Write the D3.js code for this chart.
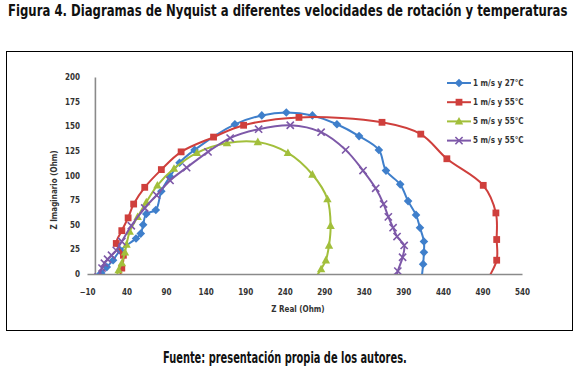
<!DOCTYPE html>
<html>
<head>
<meta charset="utf-8">
<script src="https://cdn.jsdelivr.net/npm/d3@7"></script>
<style>
  body { margin: 0; background: #fff; }
  text { font-family: "DejaVu Sans Condensed", "Liberation Sans Narrow", sans-serif; }
</style>
</head>
<body>
<div id="chart"></div>
<script>
// Nyquist data (Z real, Z imaginario, Ohm)
var seriesNames = ["1 m/s y 27°C", "1 m/s y 55°C", "5 m/s y 55°C", "5 m/s y 55°C"];
var seriesColors = ["#3f7fcb", "#cf3f3c", "#a2bf3b", "#7d58a8"];
var seriesMarkers = ["diamond", "square", "triangle", "cross"];

var blueReal = [3, 8, 15, 23, 32, 52, 58, 61, 65, 77, 84, 95, 107, 126, 177, 211, 242, 275, 306, 334, 359, 368, 386, 396, 406, 411, 416, 416, 415, 413];
var blueImag = [-3, 1, 7, 14, 24, 36, 41, 50, 61, 65, 84, 99, 113, 126, 152, 161, 164, 161, 152, 140, 126, 105, 91, 74, 60, 47, 33, 22, 10, -5];

var redReal = [31, 34, 36, 27, 34, 42, 49, 63, 84, 109, 150, 188, 258, 363, 412, 445, 491, 507, 508, 508, 496];
var redImag = [-4, 6, 19, 31, 44, 57, 71, 88, 106, 124, 139, 151, 159, 154, 142, 117, 90, 62, 35, 14, -6];

var greenReal = [27, 30, 34, 38, 40, 44, 54, 65, 79, 100, 129, 167, 206, 244, 275, 294, 298, 296, 292, 286, 277];
var greenImag = [-4, 4, 11, 22, 30, 43, 58, 73, 90, 107, 123, 133, 134, 123, 101, 76, 49, 29, 14, 5, -6];

var purpleReal = [4, 9, 12, 16, 21, 27, 34, 46, 63, 78, 95, 116, 143, 171, 207, 247, 286, 317, 339, 355, 365, 371, 377, 382, 391, 389, 383, 381];
var purpleImag = [-3, 6, 11, 15, 19, 24, 33, 49, 67, 80, 95, 108, 124, 138, 147, 151, 144, 126, 105, 87, 71, 58, 47, 38, 29, 17, 3, -4];

var xTicks = [-10, 40, 90, 140, 190, 240, 290, 340, 390, 440, 490, 540];
var yTicks = [0, 25, 50, 75, 100, 125, 150, 175, 200];

var allReal = [blueReal, redReal, greenReal, purpleReal];
var allImag = [blueImag, redImag, greenImag, purpleImag];

var W = 579, H = 372;

var svg = d3.select("#chart").append("svg")
    .attr("width", W)
    .attr("height", H);

svg.append("rect").attr("width", W).attr("height", H).attr("fill", "#fff");

// Squeeze a text horizontally so it spans the given width
function fitText(x0, y0, width, size, str) {
    var t = svg.append("text")
        .style("font-size", size + "px").style("font-weight", "bold")
        .attr("fill", "#111")
        .text(str);
    var natural = t.node().getComputedTextLength();
    var sx = width / natural;
    t.attr("transform", "translate(" + x0 + "," + y0 + ") scale(" + sx + ",1)");
    return t;
}

// Title and source
fitText(8, 16, 560, 16, "Figura 4. Diagramas de Nyquist a diferentes velocidades de rotación y temperaturas");
fitText(163, 363, 244, 16, "Fuente: presentación propia de los autores.");

// Frame around the chart
svg.append("rect")
    .attr("x", 6.5).attr("y", 51.5)
    .attr("width", 566).attr("height", 279)
    .attr("fill", "none").attr("stroke", "#000").attr("stroke-width", 1);

var x = d3.scaleLinear().domain([-10, 540]).range([87, 522]);
var y = d3.scaleLinear().domain([0, 200]).range([274, 77]);

// Clip to the plot area (values below 0 are hidden like in the original)
svg.append("clipPath").attr("id", "plotClip")
    .append("rect")
    .attr("x", x(-10)).attr("y", y(200) - 10)
    .attr("width", x(540) - x(-10)).attr("height", y(0) - y(200) + 10);

// Axes
var yAxis = svg.append("g")
    .attr("transform", "translate(" + x(0) + ",0)")
    .call(d3.axisLeft(y).tickValues(yTicks).tickSize(0).tickPadding(15));

var xAxis = svg.append("g")
    .attr("transform", "translate(0," + y(0) + ")")
    .call(d3.axisBottom(x).tickValues(xTicks).tickSize(0).tickPadding(15));

[xAxis, yAxis].forEach(function (ax) {
    ax.select(".domain").attr("stroke", "#8a8a8a").attr("stroke-width", 1.6);
    ax.selectAll("text")
        .style("font-size", "8px")
        .style("font-weight", "bold")
        .style("font-family", "\"DejaVu Sans Condensed\", sans-serif")
        .attr("fill", "#333");
});

svg.append("text")
    .attr("x", 298).attr("y", 312)
    .attr("text-anchor", "middle")
    .style("font-size", "8px").style("font-weight", "bold")
    .attr("fill", "#333")
    .text("Z Real (Ohm)");

svg.append("text")
    .attr("transform", "translate(57,190) rotate(-90)")
    .attr("text-anchor", "middle")
    .style("font-size", "8px").style("font-weight", "bold")
    .attr("fill", "#333")
    .text("Z Imaginario (Ohm)");

// Marker shapes
function drawMarker(g, type, color) {
    if (type == "diamond") {
        g.append("path").attr("d", "M0,-4.3L4.3,0L0,4.3L-4.3,0Z").attr("fill", color);
    } else if (type == "square") {
        g.append("rect").attr("x", -3.4).attr("y", -3.4).attr("width", 6.8).attr("height", 6.8).attr("fill", color);
    } else if (type == "triangle") {
        g.append("path").attr("d", "M0,-4.4L4.2,3.2L-4.2,3.2Z").attr("fill", color);
    } else {
        g.append("path").attr("d", "M-3.6,-3.6L3.6,3.6M-3.6,3.6L3.6,-3.6")
            .attr("stroke", color).attr("stroke-width", 1.6).attr("fill", "none");
    }
}

var line = d3.line()
    .x(function (d) { return x(d[0]); })
    .y(function (d) { return y(d[1]); })
    .curve(d3.curveCatmullRom.alpha(0.5));

var plot = svg.append("g").attr("clip-path", "url(#plotClip)");

allReal.forEach(function (reals, i) {
    var pts = reals.map(function (r, j) { return [r, allImag[i][j]]; });
    var g = plot.append("g");
    g.append("path")
        .datum(pts)
        .attr("d", line)
        .attr("fill", "none")
        .attr("stroke", seriesColors[i])
        .attr("stroke-width", 2);
    g.selectAll(".m")
        .data(pts)
        .enter()
        .append("g")
        .attr("transform", function (d) { return "translate(" + x(d[0]) + "," + y(d[1]) + ")"; })
        .each(function () { drawMarker(d3.select(this), seriesMarkers[i], seriesColors[i]); });
});

// Legend
var legend = svg.selectAll(".legend")
    .data(seriesNames)
    .enter()
    .append("g")
    .attr("class", "legend")
    .attr("transform", function (d, i) { return "translate(447," + (83 + i * 19.2) + ")"; });

legend.append("line")
    .attr("x1", 0).attr("x2", 24)
    .attr("stroke", function (d, i) { return seriesColors[i]; })
    .attr("stroke-width", 2);

legend.append("g")
    .attr("transform", "translate(12,0)")
    .each(function (d, i) { drawMarker(d3.select(this), seriesMarkers[i], seriesColors[i]); });

legend.append("text")
    .attr("x", 26).attr("dy", "0.35em")
    .style("font-size", "8px").style("font-weight", "bold")
    .attr("fill", "#333")
    .text(function (d) { return d; });
</script>
</body>
</html>
